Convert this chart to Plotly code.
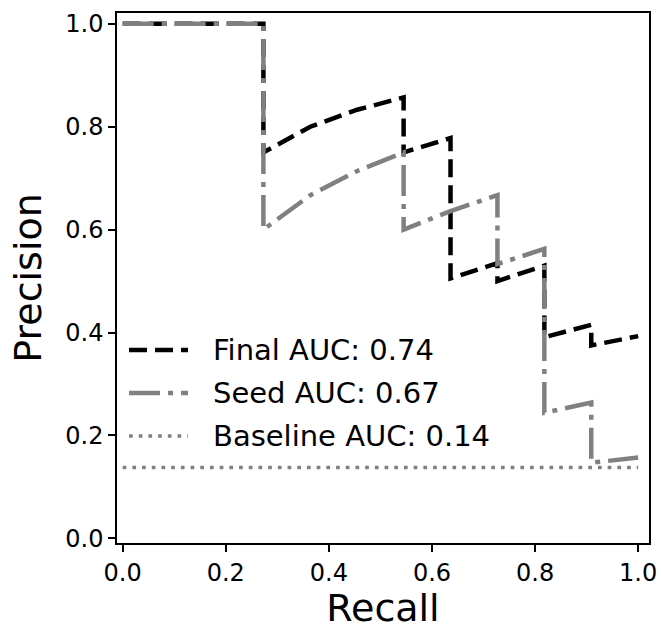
import plotly.graph_objects as go

# ---- data ----
recall_final = [0.0, 0.273, 0.273, 0.364, 0.455, 0.545, 0.545, 0.636, 0.636,
                0.727, 0.727, 0.818, 0.818, 0.909, 0.909, 1.0]
precision_final = [1.0, 1.0, 0.75, 0.80, 0.833, 0.857, 0.75, 0.778, 0.505,
                   0.535, 0.50, 0.53, 0.391, 0.415, 0.375, 0.393]

recall_seed = [0.0, 0.273, 0.273, 0.364, 0.455, 0.545, 0.545, 0.636, 0.727,
               0.727, 0.818, 0.818, 0.909, 0.909, 1.0]
precision_seed = [1.0, 1.0, 0.60, 0.667, 0.714, 0.75, 0.60, 0.636, 0.667,
                  0.533, 0.5625, 0.244, 0.264, 0.147, 0.157]

recall_base = [0.0, 1.0]
precision_base = [0.1375, 0.1375]

labels = ["Final AUC: 0.74", "Seed AUC: 0.67", "Baseline AUC: 0.14"]
tick_vals = [0.0, 0.2, 0.4, 0.6, 0.8, 1.0]
tick_text = ["0.0", "0.2", "0.4", "0.6", "0.8", "1.0"]

FONT = "DejaVu Sans"
GRAY = "#808080"

styles = [
    dict(color="black", width=4.5, dash="18px,8px"),
    dict(color=GRAY, width=4.5, dash="31px,8px,5px,8px"),
    dict(color=GRAY, width=3.5, dash="3.7px,6px"),
]

fig = go.Figure()
series = [(recall_final, precision_final), (recall_seed, precision_seed),
          (recall_base, precision_base)]
for (xs, ys), name, st in zip(series, labels, styles):
    fig.add_trace(go.Scatter(x=xs, y=ys, mode="lines", name=name,
                             line=st, showlegend=False))

# legend drawn manually (longer line samples, like the reference)
leg_y = [0.364, 0.283, 0.202]
for name, st, yy in zip(labels, styles, leg_y):
    fig.add_shape(type="line", xref="paper", yref="paper",
                  x0=0.0226, x1=0.1335, y0=yy, y1=yy, line=st)
    fig.add_annotation(xref="paper", yref="paper", x=0.176, y=yy,
                       text=name, showarrow=False, xanchor="left",
                       yanchor="middle",
                       font=dict(family=FONT, size=29, color="black"))

axis_common = dict(
    showgrid=False, zeroline=False, showline=True, linecolor="black",
    linewidth=1.5, mirror=True, ticks="outside", ticklen=7, tickwidth=1.5,
    tickcolor="black", tickvals=tick_vals, ticktext=tick_text,
    tickfont=dict(family=FONT, size=24, color="black"), automargin=False,
)

fig.update_layout(
    width=661, height=630,
    margin=dict(l=117, r=12, t=13, b=87),
    paper_bgcolor="white", plot_bgcolor="white",
    font=dict(family=FONT, color="black"),
    xaxis=dict(range=[-0.011, 1.021],
               title=dict(text="Recall", font=dict(family=FONT, size=38),
                          standoff=6),
               **axis_common),
    yaxis=dict(range=[-0.009, 1.021],
               title=dict(text="Precision", font=dict(family=FONT, size=38),
                          standoff=12),
               **axis_common),
)

fig.write_html("out.html")
